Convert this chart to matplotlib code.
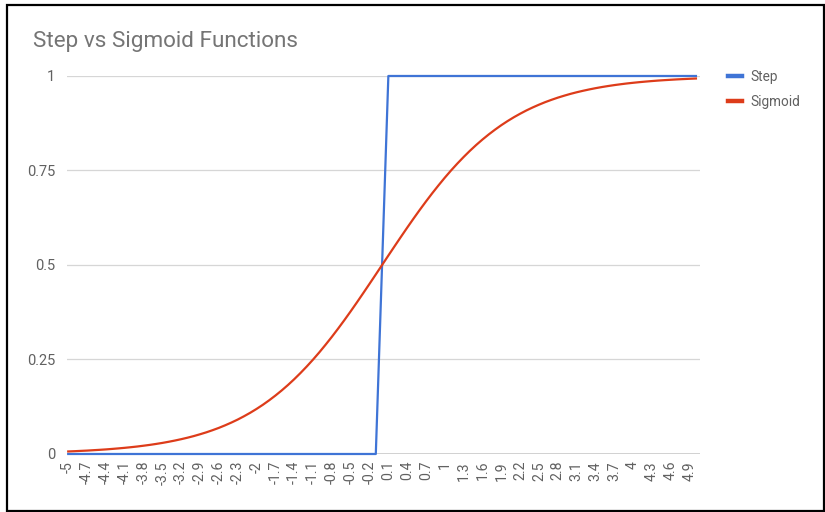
import matplotlib
matplotlib.use('Agg')
import matplotlib.pyplot as plt
from matplotlib.patches import Rectangle

plt.rcParams['font.family'] = ['Roboto', 'DejaVu Sans']

# x categories, -5 to 5 in steps of 0.1
x_values = [
    -5.0, -4.9, -4.8, -4.7, -4.6, -4.5, -4.4, -4.3, -4.2, -4.1,
    -4.0, -3.9, -3.8, -3.7, -3.6, -3.5, -3.4, -3.3, -3.2, -3.1,
    -3.0, -2.9, -2.8, -2.7, -2.6, -2.5, -2.4, -2.3, -2.2, -2.1,
    -2.0, -1.9, -1.8, -1.7, -1.6, -1.5, -1.4, -1.3, -1.2, -1.1,
    -1.0, -0.9, -0.8, -0.7, -0.6, -0.5, -0.4, -0.3, -0.2, -0.1,
    0.0, 0.1, 0.2, 0.3, 0.4, 0.5, 0.6, 0.7, 0.8, 0.9,
    1.0, 1.1, 1.2, 1.3, 1.4, 1.5, 1.6, 1.7, 1.8, 1.9,
    2.0, 2.1, 2.2, 2.3, 2.4, 2.5, 2.6, 2.7, 2.8, 2.9,
    3.0, 3.1, 3.2, 3.3, 3.4, 3.5, 3.6, 3.7, 3.8, 3.9,
    4.0, 4.1, 4.2, 4.3, 4.4, 4.5, 4.6, 4.7, 4.8, 4.9,
    5.0,
]

step_values = [
    0, 0, 0, 0, 0, 0, 0, 0, 0, 0,
    0, 0, 0, 0, 0, 0, 0, 0, 0, 0,
    0, 0, 0, 0, 0, 0, 0, 0, 0, 0,
    0, 0, 0, 0, 0, 0, 0, 0, 0, 0,
    0, 0, 0, 0, 0, 0, 0, 0, 0, 0,
    0.5, 1, 1, 1, 1, 1, 1, 1, 1, 1,
    1, 1, 1, 1, 1, 1, 1, 1, 1, 1,
    1, 1, 1, 1, 1, 1, 1, 1, 1, 1,
    1, 1, 1, 1, 1, 1, 1, 1, 1, 1,
    1, 1, 1, 1, 1, 1, 1, 1, 1, 1,
    1,
]

sigmoid_values = [
    0.0067, 0.0074, 0.0082, 0.0090, 0.0100, 0.0110, 0.0121, 0.0134, 0.0148, 0.0163,
    0.0180, 0.0198, 0.0219, 0.0241, 0.0266, 0.0293, 0.0323, 0.0356, 0.0392, 0.0431,
    0.0474, 0.0522, 0.0573, 0.0630, 0.0691, 0.0759, 0.0832, 0.0911, 0.0998, 0.1091,
    0.1192, 0.1301, 0.1419, 0.1545, 0.1680, 0.1824, 0.1978, 0.2142, 0.2315, 0.2497,
    0.2689, 0.2891, 0.3100, 0.3318, 0.3543, 0.3775, 0.4013, 0.4256, 0.4502, 0.4750,
    0.5000, 0.5250, 0.5498, 0.5744, 0.5987, 0.6225, 0.6457, 0.6682, 0.6900, 0.7109,
    0.7311, 0.7503, 0.7685, 0.7858, 0.8022, 0.8176, 0.8320, 0.8455, 0.8581, 0.8699,
    0.8808, 0.8909, 0.9002, 0.9089, 0.9168, 0.9241, 0.9309, 0.9370, 0.9427, 0.9478,
    0.9526, 0.9569, 0.9608, 0.9644, 0.9677, 0.9707, 0.9734, 0.9759, 0.9781, 0.9802,
    0.9820, 0.9837, 0.9852, 0.9866, 0.9879, 0.9890, 0.9900, 0.9910, 0.9918, 0.9926,
    0.9933,
]

y_ticks = [0, 0.25, 0.5, 0.75, 1]
y_tick_labels = ['0', '0.25', '0.5', '0.75', '1']

blue = '#3f74d6'
red = '#dd3c1a'
text_gray = '#616161'

fig = plt.figure(figsize=(8.25, 5.12), dpi=100)
ax = fig.add_axes([0.0808, 0.1133, 0.7677, 0.7383])

idx = list(range(len(x_values)))
ax.plot(idx, step_values, color=blue, lw=1.6, label='Step', zorder=3,
        clip_on=False)
ax.plot(idx, sigmoid_values, color=red, lw=1.6, label='Sigmoid', zorder=4,
        clip_on=False)

ax.set_xlim(-0.25, 100.65)
ax.set_ylim(0, 1)

# every third category gets a label
tick_idx = idx[::3]
ax.set_xticks(tick_idx)
ax.set_xticklabels(['%g' % x_values[i] for i in tick_idx], rotation=90,
                   va='top', ha='center')
ax.set_yticks(y_ticks)
ax.set_yticklabels(y_tick_labels)
ax.tick_params(axis='both', length=0, colors=text_gray)
ax.tick_params(axis='x', pad=5, labelsize=10.2)
ax.tick_params(axis='y', pad=8, labelsize=10.5)

ax.grid(axis='y', color='#d6d6d6', lw=0.9, zorder=0)
ax.axhline(0, color='#333333', lw=1.0, zorder=2)
for s in ax.spines.values():
    s.set_visible(False)

fig.text(33 / 825, 1 - 41 / 512, 'Step vs Sigmoid Functions', fontsize=16.2,
         color='#757575', va='center', ha='left')

leg = ax.legend(loc='upper left', bbox_to_anchor=(728 / 825, 1 - 70 / 512),
                bbox_transform=fig.transFigure, frameon=False, fontsize=9.8,
                handlelength=1.0, handletextpad=0.65, labelspacing=0.8,
                borderpad=0, borderaxespad=0)
for line in leg.get_lines():
    line.set_linewidth(3.2)
for t in leg.get_texts():
    t.set_color(text_gray)

# black screenshot frame
fig.patches.append(Rectangle((7 / 825, 1 / 512), 817 / 825, 506 / 512,
                             transform=fig.transFigure, fill=False,
                             edgecolor='black', lw=1.6))

fig.savefig('out.png', dpi=100)
